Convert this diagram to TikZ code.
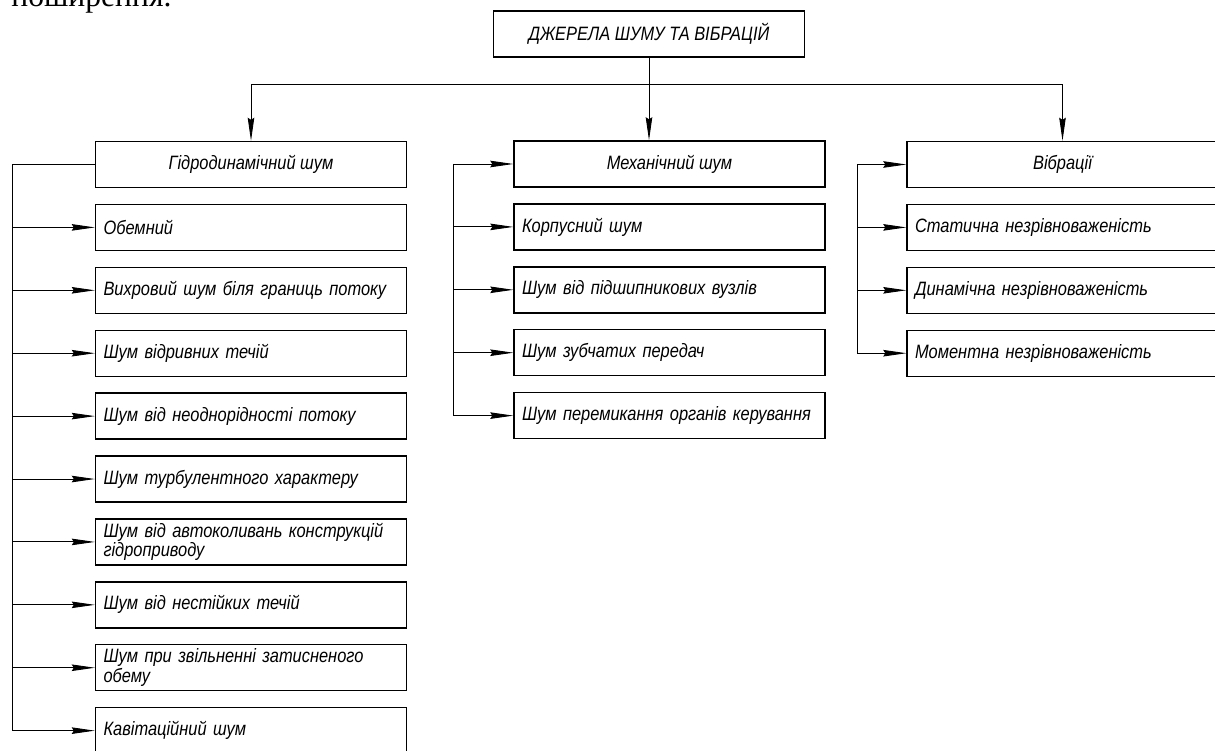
\documentclass[tikz,border=0pt]{standalone}
\usepackage{fontspec}
\setmainfont{Liberation Sans}[FakeStretch=0.85]
\newfontfamily\bodyfont{Liberation Serif}
\usetikzlibrary{positioning,arrows.meta}

\begin{document}
\begin{tikzpicture}[
        >={Stealth[length=4.6mm,width=1.3mm,inset=0.4mm]},
        node distance=0.31cm,
        box/.style={shape=rectangle, draw, line width=0.8pt, font=\itshape\fontsize{11}{11.2}\selectfont,
            minimum width=6.22cm, minimum height=0.92cm, inner ysep=1pt},
        head/.style={box, align=center},
        item/.style={box, align=left, text width=5.9cm, inner xsep=0.16cm},
        link/.style={->, line width=0.5pt},
        bus/.style={line width=0.5pt},
    ]
    \useasboundingbox (0,0) rectangle (24.3,-15.02);
    % cut line of the page text above
    \node[anchor=base west, inner sep=0, font=\bodyfont\fontsize{18}{20}\selectfont] (cut) at (0.22,-0.14) {поширення.};

    \node[head] (top) at (12.98,-0.68) {ДЖЕРЕЛА ШУМУ ТА ВІБРАЦІЙ};

    % hydrodynamic noise
    \node[head] (hydro) at (5.02,-3.29) {Гідродинамічний шум};
    \node[item, below=of hydro] (h1) {Обемний};
    \node[item, below=of h1] (h2) {Вихровий шум біля границь потоку};
    \node[item, below=of h2] (h3) {Шум відривних течій};
    \node[item, below=of h3] (h4) {Шум від неоднорідності потоку};
    \node[item, below=of h4] (h5) {Шум турбулентного характеру};
    \node[item, below=of h5] (h6) {Шум від автоколивань конструкцій\\гідроприводу};
    \node[item, below=of h6] (h7) {Шум від нестійких течій};
    \node[item, below=of h7] (h8) {Шум при звільненні затисненого\\обему};
    \node[item, below=of h8] (h9) {Кавітаційний шум};

    % mechanical noise
    \node[head] (mech) at (13.39,-3.28) {Механічний шум};
    \node[item, below=of mech] (m1) {Корпусний шум};
    \node[item, below=of m1] (m2) {Шум від підшипникових вузлів};
    \node[item, below=of m2] (m3) {Шум зубчатих передач};
    \node[item, below=of m3] (m4) {Шум перемикання органів керування};

    % vibrations
    \node[head] (vib) at (21.25,-3.29) {Вібрації};
    \node[item, below=of vib] (v1) {Статична незрівноваженість};
    \node[item, below=of v1] (v2) {Динамічна незрівноваженість};
    \node[item, below=of v2] (v3) {Моментна незрівноваженість};

    \coordinate (split) at (0,-1.69);
    \coordinate (hx) at (0.24,0);
    \coordinate (mx) at (9.06,0);
    \coordinate (vx) at (17.14,0);

    \draw[link] (top.south) -- (top.south |- mech.north);
    \draw[link] (top.south |- split) -| (hydro.north);
    \draw[link] (top.south |- split) -| (vib.north);

    \draw[bus] (hydro.west) -- (hydro.west -| hx) -- (h9.west -| hx);
    \foreach \n in {h1,h2,h3,h4,h5,h6,h7,h8,h9}
        \draw[link] (\n.west -| hx) -- (\n.west);

    \draw[bus] (mech.west -| mx) -- (m4.west -| mx);
    \foreach \n in {mech,m1,m2,m3,m4}
        \draw[link] (\n.west -| mx) -- (\n.west);

    \draw[bus] (vib.west -| vx) -- (v3.west -| vx);
    \foreach \n in {vib,v1,v2,v3}
        \draw[link] (\n.west -| vx) -- (\n.west);
\end{tikzpicture}
\end{document}
